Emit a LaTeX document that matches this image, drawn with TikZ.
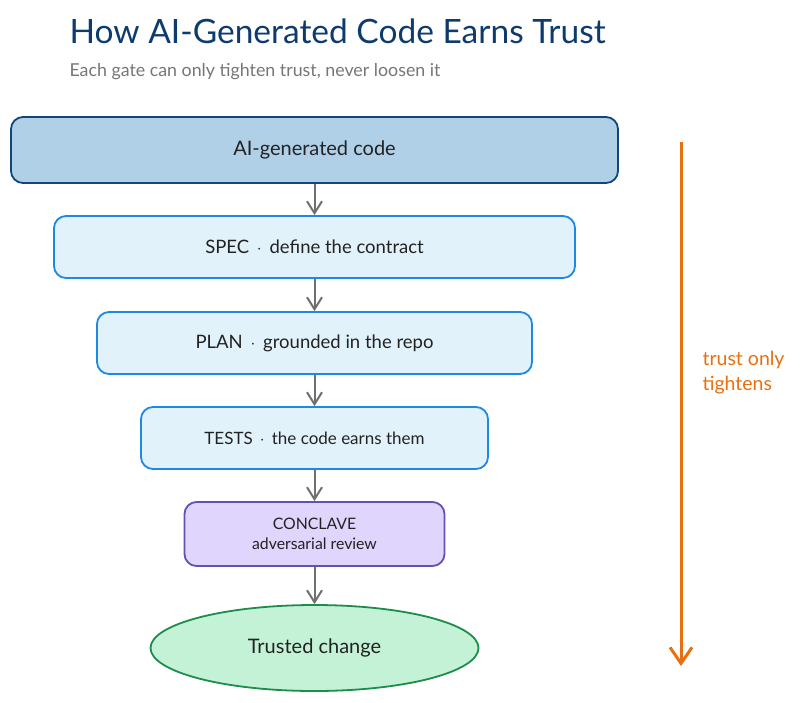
\documentclass[tikz,border=0pt]{standalone}
\usepackage{fontspec}
\setmainfont{Lato}
\usepackage{tikz}
\usetikzlibrary{shapes.geometric, arrows}
\usetikzlibrary{positioning, arrows.meta}
\definecolor{titleblue}{HTML}{0D3B6E}
\definecolor{subgray}{HTML}{767676}
\definecolor{inkdark}{HTML}{222222}
\definecolor{aifill}{HTML}{B0D0E8}
\definecolor{aidraw}{HTML}{12457A}
\definecolor{gatefill}{HTML}{E1F2FB}
\definecolor{gatedraw}{HTML}{1E88E5}
\definecolor{revfill}{HTML}{E0D5FC}
\definecolor{revdraw}{HTML}{6450B0}
\definecolor{okfill}{HTML}{C4F2D6}
\definecolor{okdraw}{HTML}{1E8C4A}
\definecolor{linkgray}{HTML}{707070}
\definecolor{trustorange}{HTML}{E8700F}
\tikzstyle{source} = [rectangle, rounded corners=12pt, 
minimum width=607pt, minimum height=66pt, text centered, 
draw=aidraw, line width=1.8pt, fill=aifill, text=inkdark, 
font=\fontsize{20}{24}\selectfont]
\tikzstyle{gate} = [rectangle, rounded corners=12pt, 
minimum height=62pt, text centered, draw=gatedraw, 
line width=1.8pt, fill=gatefill, text=inkdark, 
font=\fontsize{18.5}{22}\selectfont]
\tikzstyle{review} = [rectangle, rounded corners=12pt, 
minimum width=260pt, minimum height=64pt, text centered, 
draw=revdraw, line width=1.8pt, fill=revfill, align=center, 
text=inkdark, font=\fontsize{15.8}{20}\selectfont]
\tikzstyle{result} = [ellipse, minimum width=328pt, 
minimum height=86pt, text centered, draw=okdraw, 
line width=1.8pt, fill=okfill, text=inkdark, 
font=\fontsize{20}{24}\selectfont]
\tikzstyle{arrow} = [line width=2pt, draw=linkgray, 
-{Straight Barb[length=12pt,width=15pt]}]

\begin{document}
\begin{tikzpicture}[x=1pt, y=1pt, node distance=96pt]
\useasboundingbox (0,0) rectangle (800,-702);

\node (title) [anchor=west, text=titleblue, 
font=\fontsize{33.5}{40}\selectfont] at (66,-31) 
{How AI-Generated Code Earns Trust};
\node (subtitle) [anchor=west, text=subgray, 
font=\fontsize{17.8}{21}\selectfont] at (66,-72) 
{Each gate can only tighten trust, never loosen it};

\node (code) [source] at (314.5,-150) {AI-generated code};

\node (spec) [gate, minimum width=521pt, below of=code, yshift=-1pt] 
{SPEC \,$\cdot$\, define the contract};

\node (plan) [gate, minimum width=435pt, below of=spec] 
{PLAN \,$\cdot$\, grounded in the repo};

\node (tests) [gate, minimum width=347pt, below of=plan, yshift=1pt, 
font=\fontsize{17}{21}\selectfont] 
{TESTS \,$\cdot$\, the code earns them};

\node (conclave) [review, below of=tests] 
{CONCLAVE \\ adversarial review};

\node (trusted) [result, below of=conclave, yshift=-18pt] 
{Trusted change};

\draw [arrow] (code) -- (spec);
\draw [arrow] (spec) -- (plan);
\draw [arrow] (plan) -- (tests);
\draw [arrow] (tests) -- (conclave);
\draw [arrow] (conclave) -- (trusted);

%----------trust arrow----------------
\coordinate (top) at (681,-142);
\coordinate (bottom) at (681,-666);
\draw [line width=3pt, draw=trustorange, 
-{Straight Barb[length=16pt,width=22pt]}] (top) -- (bottom);
\node (tightens) [anchor=west, align=left, text=trustorange, 
font=\fontsize{19.5}{25}\selectfont] at (699,-373) 
{trust only \\ tightens};

\end{tikzpicture}
\end{document}
